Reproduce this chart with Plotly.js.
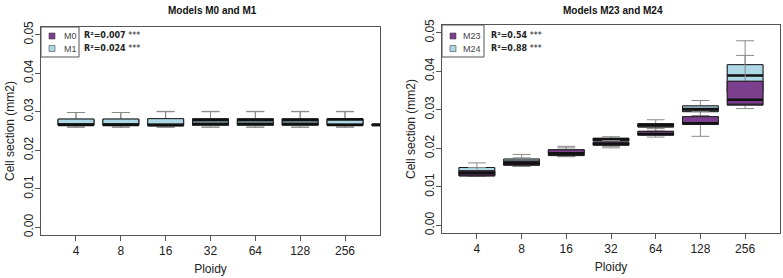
<!DOCTYPE html>
<html>
<head>
<meta charset="utf-8">
<script src="https://cdn.plot.ly/plotly-3.0.1.min.js"></script>
<style>html,body{margin:0;padding:0;background:#fff;}#chart{width:783px;height:278px;}</style>
</head>
<body>
<div id="chart"></div>
<script>
// ---------------- data ----------------
const ploidy = ['4', '8', '16', '32', '64', '128', '256'];
const yTicks = [0, 0.01, 0.02, 0.03, 0.04, 0.05];
const yTickText = ['0.00', '0.01', '0.02', '0.03', '0.04', '0.05'];

// Left panel (8th box sits at the clipped right edge)
const m0Lower  = [0.0260, 0.0260, 0.0260, 0.0260, 0.0260, 0.0260, 0.0260, 0.0265];
const m0Q1     = [0.0265, 0.0265, 0.0265, 0.0265, 0.0265, 0.0265, 0.0265, 0.0265];
const m0Median = [0.0267, 0.0267, 0.0265, 0.0278, 0.0278, 0.0278, 0.0280, 0.0266];
const m0Q3     = [0.0280, 0.0280, 0.0281, 0.0281, 0.0281, 0.0281, 0.0281, 0.0267];
const m0Upper  = [0.0298, 0.0298, 0.0300, 0.0300, 0.0300, 0.0300, 0.0300, 0.0267];

const m1Lower  = [0.0260, 0.0260, 0.0260, 0.0260, 0.0260, 0.0260, 0.0260, 0.0265];
const m1Q1     = [0.0265, 0.0265, 0.0265, 0.0265, 0.0265, 0.0265, 0.0265, 0.0265];
const m1Median = [0.0266, 0.0266, 0.0266, 0.0269, 0.0269, 0.0269, 0.0266, 0.0266];
const m1Q3     = [0.0281, 0.0281, 0.0282, 0.0282, 0.0282, 0.0282, 0.0282, 0.0267];
const m1Upper  = [0.0298, 0.0298, 0.0301, 0.0301, 0.0301, 0.0301, 0.0301, 0.0267];

// Right panel
const m23Lower  = [0.0127, 0.0153, 0.0178, 0.0201, 0.0229, 0.0231, 0.0303];
const m23Q1     = [0.0128, 0.0156, 0.0181, 0.0208, 0.0234, 0.0262, 0.0312];
const m23Median = [0.0136, 0.0161, 0.0187, 0.0211, 0.0237, 0.0265, 0.0326];
const m23Q3     = [0.0141, 0.0166, 0.0196, 0.0216, 0.0244, 0.0282, 0.0374];
const m23Upper  = [0.0150, 0.0175, 0.0201, 0.0220, 0.0251, 0.0295, 0.0441];

const m24Lower  = [0.0128, 0.0153, 0.0179, 0.0205, 0.0245, 0.0285, 0.0330];
const m24Q1     = [0.0130, 0.0157, 0.0183, 0.0219, 0.0255, 0.0295, 0.0345];
const m24Median = [0.0140, 0.0165, 0.0190, 0.0223, 0.0260, 0.0302, 0.0389];
const m24Q3     = [0.0150, 0.0172, 0.0196, 0.0226, 0.0264, 0.0310, 0.0417];
const m24Upper  = [0.0162, 0.0184, 0.0205, 0.0230, 0.0274, 0.0324, 0.0479];

const seriesNames = ['M0', 'M1', 'M23', 'M24'];
const r2Labels = ['R²=0.007', 'R²=0.024', 'R²=0.54', 'R²=0.88'];

// ---------------- styling ----------------
const PURPLE = '#7b3f8e';
const LIGHTBLUE = '#add8e6';
const W = 783, H = 278;
const px = v => v / W;
const py = v => 1 - v / H;
const FONT = 'Liberation Sans, Arial, sans-serif';

function positions(n) { return Array.from({length: n}, (_, i) => i + 1); }

function seriesTraces(xa, ya, lo, q1, med, q3, up, color) {
  const x = positions(q1.length);
  const common = {type: 'box', x: x, xaxis: xa, yaxis: ya, width: 0.8,
                  boxpoints: false, hoverinfo: 'skip', showlegend: false};
  const whisk = Object.assign({}, common, {
    q1: q1, median: q1, q3: q3, lowerfence: lo, upperfence: up,
    line: {color: '#8a8a8a', width: 1}, fillcolor: 'rgba(0,0,0,0)', whiskerwidth: 0.5
  });
  const box = Object.assign({}, common, {
    q1: q1, median: q1, q3: q3, lowerfence: q1, upperfence: q3,
    line: {color: '#1a1a1a', width: 1}, fillcolor: color, whiskerwidth: 0
  });
  const mline = Object.assign({}, common, {
    q1: med, median: med, q3: med, lowerfence: med, upperfence: med,
    line: {color: '#111', width: 2.6}, fillcolor: 'rgba(0,0,0,0)', whiskerwidth: 0
  });
  return [whisk, box, mline];
}

const l0 = seriesTraces('x', 'y', m0Lower, m0Q1, m0Median, m0Q3, m0Upper, PURPLE);
const l1 = seriesTraces('x', 'y', m1Lower, m1Q1, m1Median, m1Q3, m1Upper, LIGHTBLUE);
const r24 = seriesTraces('x2', 'y2', m24Lower, m24Q1, m24Median, m24Q3, m24Upper, LIGHTBLUE);
const r23 = seriesTraces('x2', 'y2', m23Lower, m23Q1, m23Median, m23Q3, m23Upper, PURPLE);

const traces = [l0[0], l0[1], l1[0], l1[1], l1[2], l0[2],
                r24[0], r24[1], r24[2], r23[0], r23[1], r23[2]];

function xAxis(domain, anchor) {
  return {domain: domain, anchor: anchor, range: [0.22, 7.78],
    tickmode: 'array', tickvals: positions(ploidy.length), ticktext: ploidy,
    ticks: 'outside', ticklen: 5, tickcolor: '#555', showline: true, mirror: true,
    linecolor: '#555', linewidth: 1, showgrid: false, zeroline: false,
    tickfont: {family: FONT, size: 12, color: '#222'},
    title: {text: 'Ploidy', font: {family: FONT, size: 12, color: '#222'}, standoff: 7}};
}
function yAxis(domain, anchor) {
  return {domain: domain, anchor: anchor, range: [-0.002, 0.052],
    tickmode: 'array', tickvals: yTicks, ticktext: yTickText, tickangle: -90,
    ticks: 'outside', ticklen: 5, tickcolor: '#555', showline: true, mirror: true,
    linecolor: '#555', linewidth: 1, showgrid: false, zeroline: false,
    ticklabelstandoff: -3,
    tickfont: {family: FONT, size: 12, color: '#222'},
    title: {text: 'Cell section (mm2)', font: {family: FONT, size: 12, color: '#222'}, standoff: 5}};
}

// legend boxes (decoration) built from series names
function legendParts(x0, x1, y0, y1, sqX, txtX, r2X, names, r2s) {
  const shapes = [{type: 'rect', xref: 'paper', yref: 'paper',
    x0: px(x0), x1: px(x1), y0: py(y1), y1: py(y0),
    line: {color: '#555', width: 1}, fillcolor: 'rgba(0,0,0,0)'}];
  const cols = [PURPLE, LIGHTBLUE];
  const rows = [36, 48.5];
  const anns = [];
  names.forEach((n, i) => {
    shapes.push({type: 'rect', xref: 'paper', yref: 'paper',
      x0: px(sqX), x1: px(sqX + 6), y0: py(rows[i] + 3), y1: py(rows[i] - 3),
      line: {color: '#444', width: 0.6}, fillcolor: cols[i]});
    anns.push({xref: 'paper', yref: 'paper', x: px(txtX), y: py(rows[i]), xanchor: 'left',
      yanchor: 'middle', showarrow: false, text: n,
      font: {family: FONT, size: 9, color: '#444'}});
    anns.push({xref: 'paper', yref: 'paper', x: px(r2X), y: py(rows[i]), xanchor: 'left',
      yanchor: 'middle', showarrow: false, text: '<b>' + r2s[i] + '</b> ***',
      font: {family: 'DejaVu Sans, sans-serif', size: 8, color: '#222'}});
  });
  return {shapes, anns};
}
const legL = legendParts(41, 79, 27, 57, 49, 62, 82, seriesNames.slice(0, 2), r2Labels.slice(0, 2));
const legR = legendParts(442, 484, 25, 57, 450, 461, 489, seriesNames.slice(2, 4), r2Labels.slice(2, 4));

const titleAnns = [
  {xref: 'paper', yref: 'paper', x: px(212), y: py(10), xanchor: 'center', yanchor: 'middle',
   showarrow: false, text: '<b>Models M0 and M1</b>', font: {family: FONT, size: 10, color: '#111'}},
  {xref: 'paper', yref: 'paper', x: px(613), y: py(10), xanchor: 'center', yanchor: 'middle',
   showarrow: false, text: '<b>Models M23 and M24</b>', font: {family: FONT, size: 10, color: '#111'}}
];

const layout = {
  width: W, height: H, margin: {l: 0, r: 0, t: 0, b: 0},
  paper_bgcolor: '#fff', plot_bgcolor: '#fff', boxmode: 'overlay', showlegend: false,
  xaxis: xAxis([px(41), px(380)], 'y'),
  yaxis: yAxis([py(235), py(27)], 'x'),
  xaxis2: xAxis([px(442), px(780)], 'y2'),
  yaxis2: yAxis([py(233), py(25)], 'x2'),
  shapes: legL.shapes.concat(legR.shapes),
  annotations: titleAnns.concat(legL.anns, legR.anns)
};

Plotly.newPlot('chart', traces, layout, {staticPlot: true, displayModeBar: false});
</script>
</body>
</html>
